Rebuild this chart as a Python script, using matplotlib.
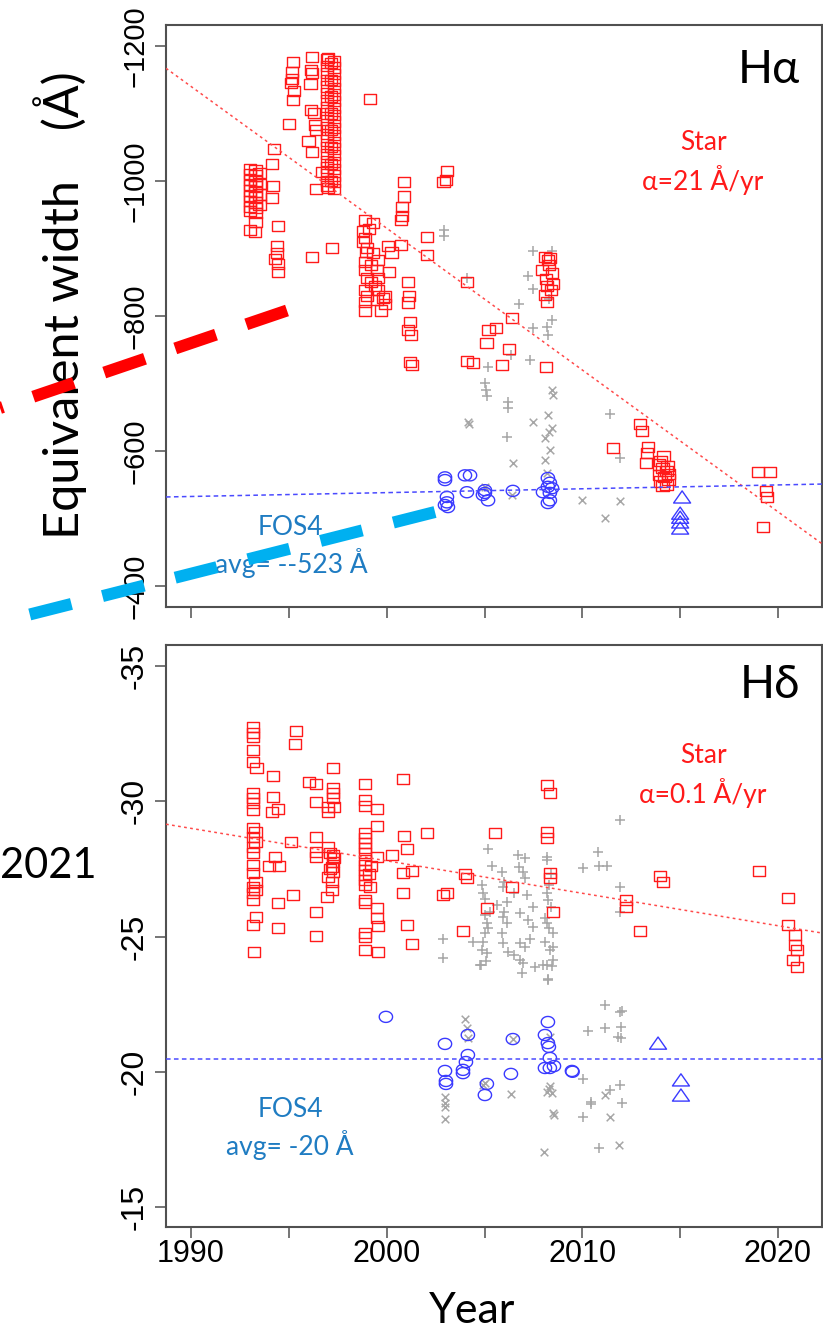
import numpy as np
import matplotlib
matplotlib.use("Agg")
import matplotlib.pyplot as plt
from matplotlib.path import Path
from matplotlib.lines import Line2D

# ------------------------------------------------------------------ data
# H-alpha panel: (year, equivalent width in Angstrom)
ha_star_1993 = [(1993.0, -1018), (1993.0, -1010), (1993.0, -1002), (1993.0, -994), (1993.0, -986),
                (1993.0, -978), (1993.0, -970), (1993.0, -962), (1993.0, -955), (1993.0, -927),
                (1993.3, -1016), (1993.3, -1008), (1993.3, -1000), (1993.3, -992), (1993.3, -984),
                (1993.3, -976), (1993.3, -968), (1993.3, -960), (1993.3, -953), (1993.3, -939),
                (1993.5, -1012), (1993.5, -996), (1993.5, -980), (1993.5, -964), (1993.27, -924)]
ha_star_1994 = [(1994.24, -1047), (1994.14, -1025), (1994.19, -993), (1994.14, -975), (1994.45, -933),
                (1994.4, -904), (1994.4, -893), (1994.3, -884), (1994.45, -877), (1994.45, -865)]
ha_star_1996 = [(1995.2, -1176), (1995.15, -1161), (1995.15, -1151), (1995.1, -1145), (1995.25, -1133),
                (1995.2, -1120), (1996.2, -1184), (1996.15, -1164), (1996.2, -1160), (1996.1, -1144),
                (1996.15, -1105), (1996.3, -1101), (1996.35, -1083), (1996.4, -1076), (1996.0, -1059),
                (1996.2, -1043), (1995.0, -1084), (1997.0, -1182), (1996.4, -988), (1997.0, -990),
                (1996.7, -1013), (1996.2, -887), (1997.2, -901), (1999.15, -1121)]
ha_star_1997 = [(1996.95, -1180), (1996.95, -1170), (1996.95, -1160), (1996.95, -1150), (1996.95, -1140),
                (1996.95, -1130), (1996.95, -1120), (1996.95, -1110), (1996.95, -1100), (1996.95, -1090),
                (1996.95, -1080), (1996.95, -1070), (1996.95, -1060), (1996.95, -1050), (1996.95, -1040),
                (1996.95, -1030), (1996.95, -1020), (1996.95, -1010), (1996.95, -1000), (1996.95, -992),
                (1997.3, -1178), (1997.3, -1168), (1997.3, -1158), (1997.3, -1148), (1997.3, -1138),
                (1997.3, -1128), (1997.3, -1118), (1997.3, -1108), (1997.3, -1098), (1997.3, -1088),
                (1997.3, -1078), (1997.3, -1068), (1997.3, -1058), (1997.3, -1048), (1997.3, -1038),
                (1997.3, -1028), (1997.3, -1018), (1997.3, -1008), (1997.3, -998), (1997.3, -988),
                (1997.15, -1175), (1997.15, -1150), (1997.15, -1125), (1997.15, -1100), (1997.15, -1075),
                (1997.15, -1050), (1997.15, -1025), (1997.15, -1000)]
ha_star_1999 = [(1998.9, -942), (1999.3, -938), (1998.9, -916), (1999.0, -901), (1999.3, -893),
                (1999.55, -883), (1998.9, -868), (1999.5, -868), (2000.1, -865), (1999.0, -856),
                (1999.55, -856), (1998.9, -839), (1999.55, -839), (1999.8, -827), (1998.9, -821),
                (1999.5, -824), (1998.9, -808), (1999.7, -808), (1998.8, -910), (1999.1, -929),
                (1998.8, -926), (2000.05, -904), (1998.9, -880), (1999.2, -850), (1999.2, -875),
                (1999.0, -830), (1999.4, -845), (1998.95, -895), (1999.9, -829), (1999.9, -818)]
ha_star_2001 = [(2000.9, -999), (2000.9, -977), (2000.8, -962), (2000.8, -948), (2000.75, -942),
                (2000.75, -905), (2000.25, -894), (2002.05, -917), (2002.05, -890), (2001.1, -850),
                (2001.15, -830), (2001.1, -820), (2001.2, -791), (2001.1, -779), (2001.25, -772),
                (2001.2, -732), (2001.3, -727), (2002.9, -999), (2003.1, -1015), (2003.05, -1002)]
ha_star_2005 = [(2004.1, -850), (2006.4, -797), (2005.2, -779), (2005.6, -782), (2005.1, -760),
                (2006.25, -751), (2004.1, -733), (2004.4, -730), (2005.9, -727), (2008.15, -724),
                (2008.1, -887), (2008.35, -886), (2007.95, -868), (2008.45, -864), (2008.2, -844),
                (2008.5, -847), (2008.1, -831), (2008.2, -821), (2008.25, -883), (2008.3, -875),
                (2008.15, -855), (2008.4, -838)]
ha_star_2014 = [(2012.95, -640), (2013.05, -630), (2011.55, -604), (2013.35, -606), (2013.3, -597),
                (2014.15, -593), (2013.25, -582), (2013.9, -580), (2014.1, -575), (2014.3, -570),
                (2013.9, -565), (2014.2, -562), (2014.4, -558), (2014.0, -555), (2014.3, -550),
                (2014.1, -548), (2014.4, -566), (2014.0, -585), (2014.35, -578),
                (2018.97, -569), (2019.6, -569), (2019.4, -541), (2019.45, -532), (2019.25, -487)]
ha_fos4_circ = [(2002.98, -561), (2002.98, -557), (2004.0, -564), (2004.26, -564), (2003.08, -532),
                (2003.08, -524), (2002.98, -520), (2003.13, -517), (2004.1, -539), (2005.02, -542),
                (2005.02, -538), (2004.92, -535), (2005.18, -527), (2006.45, -541), (2008.24, -560),
                (2008.34, -553), (2008.24, -547), (2008.45, -545), (2007.99, -539), (2008.34, -538),
                (2008.34, -527), (2008.24, -523)]
ha_fos4_tri = [(2015.1, -532), (2015.0, -508), (2015.0, -502), (2015.0, -495), (2015.0, -486)]
ha_other_plus = [(2002.93, -927), (2002.93, -919), (2007.48, -896), (2008.45, -896), (2007.2, -859),
                 (2007.48, -840), (2006.76, -818), (2008.45, -794), (2008.2, -784), (2007.48, -782),
                 (2008.24, -772), (2006.35, -742), (2007.3, -735), (2005.18, -724), (2005.05, -701),
                 (2005.1, -690), (2005.12, -681), (2006.2, -673), (2006.2, -664), (2006.15, -621),
                 (2004.1, -856), (2011.41, -655), (2011.92, -590), (2008.3, -825)]
ha_other_x = [(2004.15, -643), (2007.48, -643), (2008.45, -690), (2008.5, -683), (2008.24, -653),
              (2008.45, -634), (2008.09, -619), (2008.34, -601), (2008.09, -587), (2006.45, -582),
              (2005.02, -547), (2008.2, -567), (2009.98, -527), (2011.92, -526), (2011.15, -501),
              (2006.4, -535), (2004.2, -640), (2008.3, -628)]
# linear fits: (slope per year, value at year 2000)
ha_star_fit = (21.0, -930.0)
ha_fos4_fit = (-0.57, -538.4)

# H-delta panel
hd_star_1993 = [(1993.17, -32.74), (1993.17, -32.52), (1993.17, -32.38), (1993.17, -31.9), (1993.17, -31.45),
                (1993.35, -31.23), (1993.17, -30.3), (1993.17, -30.12), (1993.17, -29.94), (1993.17, -29.68),
                (1993.17, -29.0), (1993.3, -28.86), (1993.17, -28.68), (1993.3, -28.5), (1993.17, -28.31),
                (1993.17, -28.09), (1993.17, -27.64), (1993.17, -27.35), (1993.3, -27.01), (1993.17, -26.83),
                (1993.3, -26.72), (1993.17, -26.61), (1993.17, -26.35), (1993.32, -25.72), (1993.17, -25.43),
                (1993.2, -24.43)]
hd_star_1995 = [(1994.19, -30.93), (1994.19, -30.16), (1994.45, -29.71), (1994.14, -29.6), (1994.29, -27.94),
                (1993.99, -27.61), (1994.5, -27.61), (1995.21, -26.53), (1994.45, -26.24), (1994.45, -25.31),
                (1995.37, -32.6), (1995.31, -32.12), (1995.1, -28.5)]
hd_star_1997 = [(1997.26, -31.23), (1996.03, -30.71), (1996.39, -30.64), (1997.26, -30.49), (1997.26, -30.31),
                (1997.26, -30.12), (1996.39, -29.97), (1997.0, -29.79), (1997.3, -29.79), (1997.0, -29.6),
                (1996.39, -28.68), (1996.39, -28.12), (1996.39, -27.94), (1997.0, -28.31), (1997.26, -28.01),
                (1997.26, -27.75), (1997.2, -27.57), (1997.26, -27.38), (1997.0, -27.2), (1997.2, -27.01),
                (1997.2, -26.72), (1996.95, -26.46), (1996.39, -25.91), (1996.39, -25.02), (1997.1, -28.1),
                (1997.3, -27.9), (1997.1, -27.5)]
hd_star_1999 = [(1998.9, -30.64), (1998.9, -30.05), (1998.9, -29.82), (1998.9, -28.83), (1998.9, -28.64),
                (1998.9, -28.46), (1998.9, -28.27), (1998.9, -28.09), (1998.9, -27.83), (1998.9, -27.64),
                (1998.9, -27.46), (1998.9, -27.27), (1998.9, -27.09), (1998.9, -26.9), (1998.9, -26.35),
                (1998.9, -26.24), (1998.9, -25.13), (1998.9, -24.98), (1998.9, -24.5), (1999.5, -29.71),
                (1999.5, -29.08), (2000.27, -28.01), (1999.5, -27.94), (1999.15, -26.83), (1999.5, -26.05),
                (1999.5, -25.68), (1999.56, -25.39), (1999.56, -24.43), (2000.83, -30.82), (2000.88, -28.72),
                (2001.04, -28.24), (2000.83, -27.35), (2001.3, -27.42), (2000.83, -26.61), (2001.04, -25.43),
                (2001.3, -24.72), (2002.06, -28.83), (1999.2, -27.6), (1999.1, -27.3)]
hd_star_late = [(2005.53, -28.83), (2008.19, -30.6), (2008.34, -30.3), (2008.19, -28.86), (2008.19, -28.64),
                (2008.34, -27.35), (2008.34, -27.16), (2004.0, -27.31), (2004.1, -27.16), (2003.08, -26.61),
                (2002.88, -26.53), (2006.4, -26.83), (2005.12, -26.05), (2003.9, -25.2), (2008.5, -25.91),
                (2013.96, -27.24), (2014.12, -27.01), (2012.23, -26.35), (2012.23, -26.09), (2012.94, -25.2),
                (2019.02, -27.42), (2020.5, -26.42), (2020.5, -25.43), (2020.86, -25.06), (2020.86, -24.69),
                (2020.97, -24.5), (2020.76, -24.13), (2020.97, -23.87)]
hd_fos4_circ = [(1999.96, -22.03), (2002.98, -21.03), (2002.98, -20.03), (2003.03, -19.66), (2003.03, -19.55),
                (2004.15, -21.36), (2004.15, -20.62), (2004.05, -20.36), (2003.9, -20.07), (2003.9, -19.95),
                (2005.12, -19.55), (2005.02, -19.14), (2006.45, -21.21), (2006.35, -19.92), (2008.24, -21.84),
                (2008.09, -21.36), (2008.24, -21.06), (2008.29, -20.92), (2008.34, -20.51), (2008.09, -20.14),
                (2008.34, -20.14), (2008.55, -20.21), (2009.47, -20.03), (2009.5, -20.0)]
hd_fos4_tri = [(2013.87, -21.06), (2015.04, -19.7), (2015.04, -19.14)]
hd_other_plus = [(2005.18, -28.23), (2005.38, -27.61), (2005.89, -27.38), (2006.71, -28.01), (2007.07, -27.9),
                 (2006.76, -27.57), (2004.87, -26.9), (2004.92, -26.61), (2005.94, -26.83), (2006.15, -26.28),
                 (2005.64, -26.16), (2005.02, -25.79), (2005.12, -25.5), (2005.94, -25.72), (2006.15, -25.5),
                 (2005.02, -25.13), (2005.89, -25.13), (2004.41, -24.8), (2004.92, -24.8), (2004.87, -24.5),
                 (2005.12, -24.39), (2005.94, -24.76), (2006.2, -24.43), (2004.77, -23.95), (2002.88, -24.91),
                 (2002.88, -24.2), (2006.96, -27.38), (2007.07, -27.16), (2007.17, -26.53), (2007.48, -26.09),
                 (2006.81, -25.87), (2007.48, -25.35), (2006.81, -24.76), (2007.07, -24.61), (2006.81, -24.13),
                 (2007.58, -23.87), (2006.91, -23.65), (2007.99, -23.95), (2008.19, -27.83), (2008.19, -26.61),
                 (2008.24, -26.35), (2008.19, -25.5), (2008.5, -25.13), (2008.09, -24.8), (2008.34, -24.5),
                 (2008.5, -24.13), (2008.19, -23.95), (2008.24, -23.39), (2008.5, -24.61), (2008.19, -27.94),
                 (2010.8, -28.12), (2010.03, -27.53), (2010.85, -27.61), (2011.26, -27.61), (2011.92, -29.31),
                 (2011.92, -26.83), (2011.92, -25.91), (2004.82, -23.95), (2006.96, -24.02), (2008.45, -23.91),
                 (2008.24, -23.43), (2011.15, -22.47), (2011.92, -22.21), (2012.02, -22.25), (2010.29, -21.51),
                 (2011.15, -21.62), (2011.97, -21.65), (2011.82, -21.28), (2011.97, -21.25), (2010.03, -19.73),
                 (2011.92, -19.51), (2011.41, -19.33), (2010.44, -18.88), (2010.44, -18.81), (2012.02, -18.85),
                 (2010.03, -18.33), (2010.85, -17.18), (2005.0, -26.4), (2005.3, -25.9), (2006.0, -27.0),
                 (2006.5, -26.6), (2007.2, -25.6), (2008.3, -26.9), (2008.4, -26.1), (2008.3, -25.3),
                 (2005.1, -24.1), (2006.5, -24.3), (2007.3, -24.9), (2008.4, -27.3), (2008.1, -25.7),
                 (2005.2, -25.3), (2006.0, -25.9)]
hd_other_x = [(2004.0, -21.95), (2004.1, -21.62), (2004.15, -21.25), (2002.98, -19.07), (2002.98, -18.85),
              (2002.98, -18.7), (2002.98, -18.25), (2004.92, -19.51), (2006.35, -19.18), (2008.34, -19.47),
              (2008.19, -19.25), (2008.45, -19.21), (2008.5, -18.47), (2008.04, -17.03), (2006.45, -21.21),
              (2011.15, -19.14), (2011.41, -18.33), (2011.87, -17.29), (2008.34, -21.28), (2008.3, -19.35),
              (2008.55, -18.4), (2005.05, -19.6)]
hd_star_fit = (0.12, -27.8)
hd_fos4_fit = (0.0, -20.47)

x_ticks = [1990, 1995, 2000, 2005, 2010, 2015, 2020]
x_ticklabels = ["1990", "", "2000", "", "2010", "", "2020"]
ha_yticks = [-1200, -1000, -800, -600, -400]
ha_yticklabels = ["\u22121200", "\u22121000", "\u2212800", "\u2212600", "\u2212400"]
hd_yticks = [-35, -30, -25, -20, -15]
hd_yticklabels = ["-35", "-30", "-25", "-20", "-15"]

# ------------------------------------------------------------------ style
W, H = 823, 1330
fig = plt.figure(figsize=(W / 100, H / 100), dpi=100)


def fx(px):
    return px / W


def fy(py):
    return 1 - py / H


RED = "#ff1a1a"
BLUE = "#3a3aff"
GREY = "#a6a6a6"
SPINE = "#505050"
TXT_BLUE = "#1f7cc2"
ANN_FONT = ["Lato", "DejaVu Sans"]
TICK_FONT = ["Liberation Sans", "DejaVu Sans"]

rect_m = Path([(-0.6, -0.5), (0.6, -0.5), (0.6, 0.5), (-0.6, 0.5), (-0.6, -0.5)], closed=True)
th = np.linspace(0, 2 * np.pi, 41)
ell_m = Path(np.column_stack([0.6 * np.cos(th), 0.5 * np.sin(th)]), closed=True)
tri_m = Path([(-0.7, -0.5), (0.7, -0.5), (0.0, 0.5), (-0.7, -0.5)], closed=True)


def arr(*groups):
    pts = np.array([p for g in groups for p in g], dtype=float)
    return pts[:, 0], pts[:, 1]


def style_axes(ax, yticks, yticklabels, ylim, xlabels, ysize):
    ax.set_xlim(1988.72, 2022.25)
    ax.set_ylim(*ylim)
    for s in ax.spines.values():
        s.set_color(SPINE)
        s.set_linewidth(1.5)
    ax.tick_params(axis="both", direction="out", length=8, width=1.1, color=SPINE)
    ax.tick_params(axis="y", pad=4)
    ax.tick_params(axis="x", pad=1)
    ax.set_xticks(x_ticks)
    ax.set_xticklabels(xlabels if xlabels else [""] * len(x_ticks),
                       fontsize=22, family=TICK_FONT)
    ax.set_yticks(yticks)
    ax.set_yticklabels(yticklabels, rotation=90, va="center",
                       fontsize=ysize, family=TICK_FONT)


def draw_panel(ax, stars, circ, tri, plus, xs, star_fit, fos_fit):
    x, y = arr(*stars)
    ax.scatter(x, y, s=78, marker=rect_m, facecolors="none", edgecolors=RED, linewidths=1.0, zorder=3)
    x, y = arr(circ)
    ax.scatter(x, y, s=92, marker=ell_m, facecolors="none", edgecolors=BLUE, linewidths=1.0, zorder=3)
    x, y = arr(tri)
    ax.scatter(x, y, s=150, marker=tri_m, facecolors="none", edgecolors=BLUE, linewidths=1.0, zorder=3)
    x, y = arr(plus)
    ax.scatter(x, y, s=42, marker="+", color=GREY, linewidths=1.1, zorder=2)
    x, y = arr(xs)
    ax.scatter(x, y, s=30, marker="x", color=GREY, linewidths=1.1, zorder=2)
    ax.axline((2000, star_fit[1]), slope=star_fit[0], color="#ff4a4a", lw=1.1,
              ls=(0, (1.8, 2.2)), zorder=4)
    ax.axline((2000, fos_fit[1]), slope=fos_fit[0], color="#4a4aff", lw=1.1,
              ls=(0, (3.0, 2.2)), zorder=4)


ax1 = fig.add_axes([fx(166), fy(607), (822 - 166) / W, (607 - 25) / H])
draw_panel(ax1, [ha_star_1993, ha_star_1994, ha_star_1996, ha_star_1997, ha_star_1999,
                 ha_star_2001, ha_star_2005, ha_star_2014],
           ha_fos4_circ, ha_fos4_tri, ha_other_plus, ha_other_x, ha_star_fit, ha_fos4_fit)
style_axes(ax1, ha_yticks, ha_yticklabels, (-369, -1231), None, 21)

ax2 = fig.add_axes([fx(166), fy(1227), (822 - 166) / W, (1227 - 645) / H])
draw_panel(ax2, [hd_star_1993, hd_star_1995, hd_star_1997, hd_star_1999, hd_star_late],
           hd_fos4_circ, hd_fos4_tri, hd_other_plus, hd_other_x, hd_star_fit, hd_fos4_fit)
style_axes(ax2, hd_yticks, hd_yticklabels, (-14.26, -35.78), x_ticklabels, 23)

# ------------------------------------------------------------------ texts


def ftext(px, py, s, **kw):
    fig.text(fx(px), fy(py), s, family=ANN_FONT, rotation_mode="anchor", **kw)


ftext(800, 83, "H\u03b1", fontsize=33, ha="right", va="baseline", color="black")
ftext(800, 698, "H\u03b4", fontsize=33, ha="right", va="baseline", color="black")
ftext(703, 150, "Star", fontsize=19, ha="center", va="baseline", color=RED)
ftext(703, 190, "\u03b1=21 \u00c5/yr", fontsize=19, ha="center", va="baseline", color=RED)
ftext(703, 763, "Star", fontsize=19, ha="center", va="baseline", color=RED)
ftext(703, 803, "\u03b1=0.1 \u00c5/yr", fontsize=19, ha="center", va="baseline", color=RED)
ftext(290, 535, "FOS4", fontsize=19, ha="center", va="baseline", color=TXT_BLUE)
ftext(291, 573, "avg= --523 \u00c5", fontsize=19, ha="center", va="baseline", color=TXT_BLUE)
ftext(290, 1117, "FOS4", fontsize=19, ha="center", va="baseline", color=TXT_BLUE)
ftext(290, 1155, "avg= -20 \u00c5", fontsize=19, ha="center", va="baseline", color=TXT_BLUE)
ftext(0, 878, "2021", fontsize=30, ha="left", va="baseline", color="black")
ftext(472, 1323, "Year", fontsize=31, ha="center", va="baseline", color="black")
ftext(79, 305, "Equivalent width    (\u00c5)", fontsize=35, ha="center", va="baseline",
      rotation=90, color="black")

# decorative thick dashed strokes overlaid on the slide
lw_px = 12
lw_pt = lw_px * 0.72
red_line = Line2D([fx(287), fx(0)], [fy(310.5), fy(408)], transform=fig.transFigure,
                  color="#ff0000", lw=lw_pt, solid_capstyle="butt", dash_capstyle="butt",
                  ls=(0, (43 * 0.72 / lw_pt, 32 * 0.72 / lw_pt)), zorder=10)
cyan_line = Line2D([fx(435), fx(0)], [fy(512), fy(622)], transform=fig.transFigure,
                   color="#00b0f0", lw=lw_pt, solid_capstyle="butt", dash_capstyle="butt",
                   ls=(0, (43 * 0.72 / lw_pt, 32 * 0.72 / lw_pt)), zorder=10)
fig.add_artist(red_line)
fig.add_artist(cyan_line)

fig.savefig("out.png", dpi=100)
